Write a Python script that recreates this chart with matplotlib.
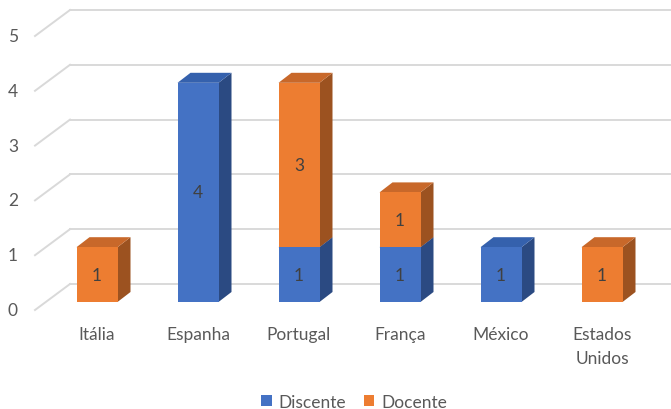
import matplotlib
matplotlib.use('Agg')
import matplotlib.pyplot as plt
from matplotlib.patches import Rectangle, Polygon

plt.rcParams['font.family'] = ['Lato', 'DejaVu Sans']

categorias = ['Itália', 'Espanha', 'Portugal', 'França', 'México', 'Estados\nUnidos']
discente = [0, 4, 1, 1, 1, 0]
docente = [1, 0, 3, 1, 0, 1]
series = [('Discente', discente), ('Docente', docente)]
yticks = [0, 1, 2, 3, 4, 5]

cores = {
    'Discente': ('#4472C4', '#3561AD', '#2B4A82'),
    'Docente': ('#ED7D31', '#C8682A', '#9C5220'),
}

W, H = 671, 410
fig = plt.figure(figsize=(W / 100, H / 100), dpi=100)
ax = fig.add_axes([0, 0, 1, 1])

# escala: 1 categoria = 101 px, 1 unidade = 54.8 px
px_x, px_y = 101.0, 54.8
x0_px, y0_px = 97, H - 303
ax.set_xlim(-x0_px / px_x, (W - x0_px) / px_x)
ax.set_ylim(-y0_px / px_y, (H - y0_px) / px_y)
ax.axis('off')

# profundidade
bw = 41 / px_x
dx, dy = 13 / px_x, 10 / px_y
fx, fy = (35 - x0_px) / px_x, -8 / px_y     # borda frontal do piso
bx, by = (70 - x0_px) / px_x, 18 / px_y     # parede do fundo

grid_c = '#D9D9D9'
for v in yticks:
    ax.plot([fx, bx], [v + fy, v + by], color=grid_c, lw=1.4, zorder=1)
    ax.plot([bx, ax.get_xlim()[1]], [v + by, v + by], color=grid_c, lw=1.4, zorder=1)
    ax.text(fx - 22 / px_x, v + fy, str(v), ha='center', va='center',
            fontsize=12.5, color='#595959')

for i, cat in enumerate(categorias):
    base = 0
    for nome, vals in series:
        h = vals[i]
        if h == 0:
            continue
        frente, topo, lado = cores[nome]
        l, r = i - bw / 2, i + bw / 2
        ax.add_patch(Polygon([(r, base), (r + dx, base + dy), (r + dx, base + h + dy), (r, base + h)],
                             closed=True, facecolor=lado, edgecolor='none', zorder=3))
        ax.add_patch(Polygon([(l, base + h), (l + dx, base + h + dy), (r + dx, base + h + dy), (r, base + h)],
                             closed=True, facecolor=topo, edgecolor='none', zorder=3))
        ax.add_patch(Rectangle((l, base), bw, h, facecolor=frente, edgecolor='none', zorder=4))
        ax.text(i, base + h / 2, str(h), ha='center', va='center',
                fontsize=12.5, color='#404040', zorder=5)
        base += h
    ax.text(i, -24 / px_y, cat, ha='center', va='top', fontsize=12.5,
            color='#595959', linespacing=1.6)

handles = [Rectangle((0, 0), 1, 1, facecolor=cores[n][0]) for n, _ in series]
fig.legend(handles, [n for n, _ in series], loc='center', bbox_to_anchor=(354 / W, 1 - 403 / H),
           ncol=2, frameon=False, fontsize=12.5, handlelength=0.6, handleheight=0.6,
           handletextpad=0.4, columnspacing=1.0, labelcolor='#595959')

fig.savefig('out.png', dpi=100)
